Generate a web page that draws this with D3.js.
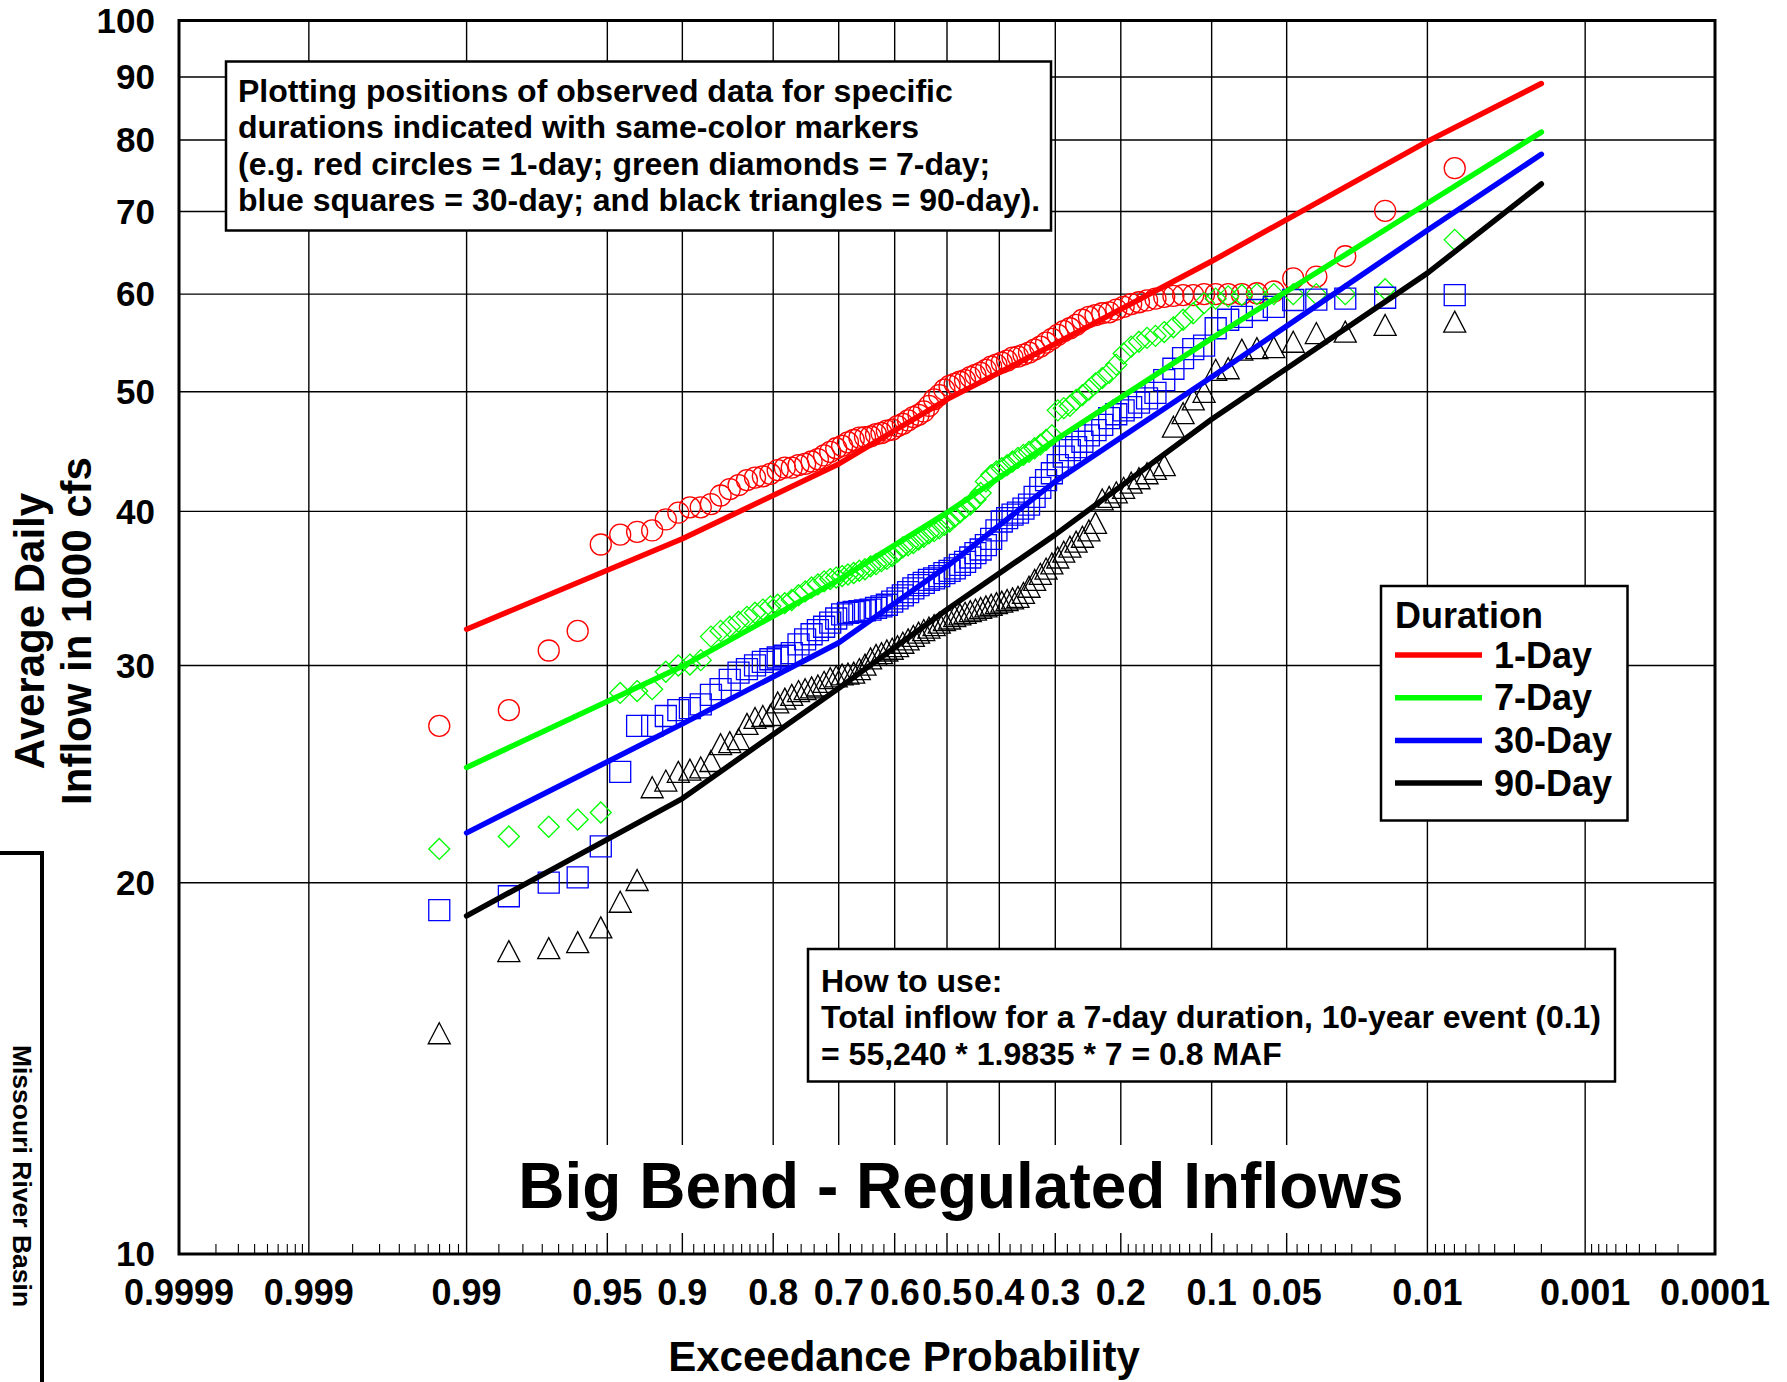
<!DOCTYPE html>
<html>
<head>
<meta charset="utf-8">
<script src="https://cdn.jsdelivr.net/npm/d3@7"></script>
<style>
body { margin:0; background:#fff; }
svg { display:block; font-family:"Liberation Sans", Arial, sans-serif; font-weight:bold; }
</style>
</head>
<body>
<svg id="chart" width="1787" height="1382"></svg>
<script>
"use strict";

// observed average daily inflow (1000 cfs), sorted smallest to largest
var day1 = [26.8, 27.6, 30.85, 32.0, 37.6, 38.3, 38.5, 38.6, 39.4, 39.9,
	40.3, 40.3, 40.55, 41.2, 41.7, 42.0, 42.4, 42.6, 42.7, 42.9,
	43.2, 43.4, 43.4, 43.6, 43.7, 43.9, 44.1, 44.4, 44.7, 45.0,
	45.2, 45.5, 45.7, 45.9, 45.95, 46.0, 46.2, 46.3, 46.5, 46.6,
	46.9, 47.1, 47.4, 47.7, 47.9, 48.2, 48.7, 49.3, 49.7, 50.2,
	50.55, 50.75, 50.95, 51.1, 51.4, 51.6, 51.8, 52.1, 52.4, 52.6,
	52.8, 53.0, 53.3, 53.4, 53.6, 53.8, 54.1, 54.4, 54.8, 55.2,
	55.6, 56.0, 56.3, 56.65, 57.2, 57.5, 57.7, 57.9, 58.0, 58.3,
	58.6, 58.9, 59.1, 59.3, 59.5, 59.7, 59.8, 59.9, 59.9, 60.0,
	60.0, 60.0, 60.0, 60.1, 60.3, 61.8, 62.0, 64.4, 70.1, 75.9];
var day7 = [21.3, 21.8, 22.2, 22.5, 22.8, 28.5, 28.6, 28.7, 29.65, 30.0,
	30.05, 30.3, 31.66, 32.0, 32.25, 32.55, 32.85, 33.1, 33.3, 33.5,
	33.6, 33.7, 33.9, 34.2, 34.45, 34.7, 34.9, 35.1, 35.25, 35.35,
	35.45, 35.55, 35.65, 35.8, 35.9, 36.1, 36.25, 36.45, 36.6, 36.8,
	37.1, 37.4, 37.55, 37.7, 37.95, 38.15, 38.4, 38.55, 38.75, 39.0,
	39.25, 39.6, 39.9, 40.25, 40.5, 40.9, 41.4, 42.3, 42.8, 43.1,
	43.35, 43.6, 43.9, 44.2, 44.45, 44.7, 45.0, 45.3, 45.7, 46.1,
	48.3, 48.5, 48.7, 49.25, 49.7, 50.2, 50.8, 51.3, 51.8, 52.6,
	53.7, 54.4, 54.9, 55.3, 55.5, 55.9, 56.4, 57.2, 57.9, 59.0,
	59.5, 59.75, 59.9, 60.0, 60.0, 60.0, 60.0, 60.0, 60.55, 66.4];
var day30 = [19.0, 19.5, 20.0, 20.2, 21.4, 24.6, 26.8, 26.8, 27.3, 27.6,
	27.7, 27.9, 28.4, 28.7, 29.2, 29.6, 29.8, 30.0, 30.2, 30.35,
	30.45, 30.55, 30.7, 31.2, 31.5, 31.8, 32.05, 32.25, 32.5, 32.75,
	33.0, 33.1, 33.15, 33.2, 33.25, 33.3, 33.4, 33.5, 33.6, 33.8,
	34.0, 34.2, 34.4, 34.65, 34.85, 35.0, 35.2, 35.3, 35.45, 35.65,
	35.8, 35.96, 36.2, 36.4, 36.7, 37.0, 37.25, 37.55, 38.0, 38.6,
	39.25, 39.5, 39.75, 39.9, 40.2, 40.5, 41.1, 41.8, 42.4, 42.95,
	43.6, 44.3, 44.85, 45.1, 45.55, 46.1, 46.55, 47.0, 47.6, 47.95,
	48.3, 48.6, 49.0, 49.4, 49.9, 51.1, 52.2, 53.25, 54.15, 54.5,
	56.3, 57.2, 57.5, 58.25, 58.6, 59.35, 59.4, 59.5, 59.6, 59.9];
var day90 = [15.1, 17.6, 17.7, 17.9, 18.4, 19.3, 20.1, 23.9, 24.2, 24.6,
	24.7, 24.8, 25.1, 25.9, 26.0, 26.15, 26.9, 27.2, 27.3, 27.35,
	28.0, 28.2, 28.4, 28.6, 28.7, 28.8, 28.9, 29.1, 29.3, 29.4,
	29.5, 29.55, 29.6, 29.8, 30.05, 30.4, 30.6, 30.7, 30.85, 30.95,
	31.1, 31.3, 31.5, 31.7, 31.9, 32.05, 32.2, 32.35, 32.5, 32.65,
	32.75, 32.9, 33.0, 33.1, 33.2, 33.3, 33.4, 33.5, 33.6, 33.7,
	33.8, 33.9, 34.0, 34.1, 34.35, 34.75, 35.2, 35.6, 35.95, 36.3,
	36.7, 37.1, 37.45, 37.8, 38.15, 38.6, 39.15, 40.9, 41.1, 41.45,
	41.8, 42.2, 42.55, 42.95, 43.3, 43.6, 46.85, 48.05, 49.3, 50.0,
	52.1, 52.25, 54.1, 54.25, 54.35, 54.9, 55.8, 55.95, 56.65, 57.0];

// fitted frequency curves (exceedance probability -> 1000 cfs)
var fitProb = [0.99, 0.9, 0.7, 0.5, 0.3, 0.1, 0.01, 0.002];
var fit1  = [32.1, 38.0, 43.7, 49.3, 54.7, 63.8, 79.8, 88.9];
var fit7  = [24.8, 29.95, 35.2, 39.9, 45.7, 55.24, 71.1, 81.2];
var fit30 = [21.95, 26.9, 31.3, 36.1, 42.3, 51.4, 67.6, 77.9];
var fit90 = [18.8, 23.4, 28.75, 33.3, 38.3, 47.5, 62.4, 73.7];

var durations = ["1-Day", "7-Day", "30-Day", "90-Day"];
var colors = ["#ff0000", "#00ff00", "#0000ff", "#000000"];

var xTicks = [0.9999, 0.999, 0.99, 0.95, 0.9, 0.8, 0.7, 0.6, 0.5, 0.4, 0.3, 0.2, 0.1, 0.05, 0.01, 0.001, 0.0001];
var xTickLabels = ["0.9999", "0.999", "0.99", "0.95", "0.9", "0.8", "0.7", "0.6", "0.5", "0.4", "0.3", "0.2", "0.1", "0.05", "0.01", "0.001", "0.0001"];
var yTicks = [10, 20, 30, 40, 50, 60, 70, 80, 90, 100];

var noteLines = ["Plotting positions of observed data for specific",
	"durations indicated with same-color markers",
	"(e.g. red circles = 1-day; green diamonds = 7-day;",
	"blue squares = 30-day; and black triangles = 90-day)."];
var howLines = ["How to use:",
	"Total inflow for a 7-day duration, 10-year event (0.1)",
	"= 55,240 * 1.9835 * 7 = 0.8 MAF"];

// inverse standard normal (Acklam)
function qnorm(p) {
	var a = [-39.69683028665376, 220.9460984245205, -275.9285104469687, 138.3577518672690, -30.66479806614716, 2.506628277459239];
	var b = [-54.47609879822406, 161.5858368580409, -155.6989798598866, 66.80131188771972, -13.28068155288572];
	var c = [-0.007784894002430293, -0.3223964580411365, -2.400758277161838, -2.549732539343734, 4.374664141464968, 2.938163982698783];
	var d = [0.007784695709041462, 0.3224671290700398, 2.445134137142996, 3.754408661907416];
	var q, r;
	if (p < 0.02425) {
		q = Math.sqrt(-2*Math.log(p));
		return (((((c[0]*q+c[1])*q+c[2])*q+c[3])*q+c[4])*q+c[5]) / ((((d[0]*q+d[1])*q+d[2])*q+d[3])*q+1);
	}
	if (p > 1-0.02425) {
		q = Math.sqrt(-2*Math.log(1-p));
		return -(((((c[0]*q+c[1])*q+c[2])*q+c[3])*q+c[4])*q+c[5]) / ((((d[0]*q+d[1])*q+d[2])*q+d[3])*q+1);
	}
	q = p - 0.5; r = q*q;
	return (((((a[0]*r+a[1])*r+a[2])*r+a[3])*r+a[4])*r+a[5])*q / (((((b[0]*r+b[1])*r+b[2])*r+b[3])*r+b[4])*r+1);
}

var box = {left:179, right:1715, top:20.5, bottom:1254};
var svg = d3.select("#chart");
svg.append("rect").attr("width", 1787).attr("height", 1382).attr("fill", "#fff");

var zScale = d3.scaleLinear().domain([qnorm(0.0001), qnorm(0.9999)]).range([box.left, box.right]);
function xP(p) { return zScale(qnorm(1 - p)); } // p is exceedance probability
var y = d3.scaleLog().domain([10, 100]).range([box.bottom, box.top]);

// grid
var grid = svg.append("g").attr("stroke", "#000").attr("stroke-width", 1.4);
xTicks.slice(1, -1).forEach(function(p){
	grid.append("line").attr("x1", xP(p)).attr("x2", xP(p)).attr("y1", box.top).attr("y2", box.bottom);
});
yTicks.slice(1, -1).forEach(function(v){
	grid.append("line").attr("x1", box.left).attr("x2", box.right).attr("y1", y(v)).attr("y2", y(v));
});

// minor ticks on the probability axis
var minor = [].concat(
	d3.range(2, 10).map(function(k){ return k*0.0001; }),
	d3.range(2, 10).map(function(k){ return k*0.001; }),
	d3.range(3, 10).map(function(k){ return k*0.005; }),
	d3.range(6, 10).map(function(k){ return k*0.01; }),
	d3.range(11, 20).map(function(k){ return k*0.01; }),
	[0.22, 0.24, 0.26, 0.28, 0.32, 0.34, 0.36, 0.38, 0.42, 0.44, 0.46, 0.48]);
minor = minor.concat(minor.map(function(p){ return 1 - p; }));
minor.forEach(function(p){
	grid.append("line").attr("stroke-width", 1.1)
		.attr("x1", xP(p)).attr("x2", xP(p)).attr("y1", box.bottom - 10).attr("y2", box.bottom);
});

// marker shapes
var triangleType = { draw: function(ctx, s){ var h = Math.sqrt(s)/2; ctx.moveTo(0, -h); ctx.lineTo(h*1.05, h); ctx.lineTo(-h*1.05, h); ctx.closePath(); } };
var diamondType = { draw: function(ctx, s){ var h = Math.sqrt(s)/2; ctx.moveTo(0, -h); ctx.lineTo(h, 0); ctx.lineTo(0, h); ctx.lineTo(-h, 0); ctx.closePath(); } };
var shapes = [
	d3.symbol().type(d3.symbolCircle).size(Math.PI*10.5*10.5),
	d3.symbol().type(diamondType).size(21*21),
	d3.symbol().type(d3.symbolSquare).size(21*21),
	d3.symbol().type(triangleType).size(21*21)
];

var observed = [day1, day7, day30, day90];
var fits = [fit1, fit7, fit30, fit90];

// plotting position (i-0.3)/(n+0.4), values sorted ascending
observed.forEach(function(vals, k){
	var n = vals.length;
	svg.append("g").selectAll("path").data(vals).join("path")
		.attr("d", shapes[k])
		.attr("transform", function(v, i){ return "translate(" + xP(1 - (i + 1 - 0.3)/(n + 0.4)) + "," + y(v) + ")"; })
		.attr("fill", "none")
		.attr("stroke", colors[k])
		.attr("stroke-width", 1.3);
});

var line = d3.line()
	.x(function(d){ return xP(d[0]); })
	.y(function(d){ return y(d[1]); });
fits.forEach(function(vals, k){
	svg.append("path")
		.attr("d", line(d3.zip(fitProb, vals)))
		.attr("fill", "none")
		.attr("stroke", colors[k])
		.attr("stroke-width", 5.5)
		.attr("stroke-linecap", "round")
		.attr("stroke-linejoin", "round");
});

// frame
svg.append("rect")
	.attr("x", box.left).attr("y", box.top)
	.attr("width", box.right - box.left).attr("height", box.bottom - box.top)
	.attr("fill", "none").attr("stroke", "#000").attr("stroke-width", 3);

// tick labels
svg.append("g").selectAll("text").data(yTicks).join("text")
	.attr("x", 155).attr("y", function(v){ return y(v); })
	.attr("dy", "0.35em").attr("text-anchor", "end")
	.attr("font-size", 35)
	.text(function(v){ return v; });
svg.append("g").selectAll("text").data(xTicks).join("text")
	.attr("x", function(p){ return xP(p); }).attr("y", 1305)
	.attr("text-anchor", "middle")
	.attr("font-size", 36)
	.text(function(p, i){ return xTickLabels[i]; });

// note box
svg.append("rect").attr("x", 226).attr("y", 61.5).attr("width", 825).attr("height", 169)
	.attr("fill", "#fff").attr("stroke", "#000").attr("stroke-width", 2.5);
svg.append("g").selectAll("text").data(noteLines).join("text")
	.attr("x", 238).attr("y", function(d, i){ return 101.5 + i*36.5; })
	.attr("font-size", 32).text(function(d){ return d; });

// how-to box
svg.append("rect").attr("x", 808).attr("y", 949).attr("width", 807).attr("height", 132.5)
	.attr("fill", "#fff").attr("stroke", "#000").attr("stroke-width", 2.5);
svg.append("g").selectAll("text").data(howLines).join("text")
	.attr("x", 821).attr("y", function(d, i){ return 991.5 + i*36.5; })
	.attr("font-size", 32).text(function(d){ return d; });

// legend
var leg = svg.append("g");
leg.append("rect").attr("x", 1381).attr("y", 586).attr("width", 246.5).attr("height", 234.5)
	.attr("fill", "#fff").attr("stroke", "#000").attr("stroke-width", 2.5);
leg.append("text").attr("x", 1395).attr("y", 628).attr("font-size", 36).text("Duration");
durations.forEach(function(name, k){
	var ly = 655 + k*42.7;
	leg.append("line").attr("x1", 1395).attr("x2", 1482).attr("y1", ly).attr("y2", ly)
		.attr("stroke", colors[k]).attr("stroke-width", 5.5);
	leg.append("text").attr("x", 1494).attr("y", ly).attr("dy", "0.35em")
		.attr("font-size", 36).text(name);
});

// title over the grid
svg.append("rect").attr("x", 505).attr("y", 1145).attr("width", 915).attr("height", 88).attr("fill", "#fff");
svg.append("text").attr("x", 961).attr("y", 1208).attr("text-anchor", "middle")
	.attr("font-size", 64).text("Big Bend - Regulated Inflows");

// axis titles
svg.append("text").attr("x", 904).attr("y", 1371).attr("text-anchor", "middle")
	.attr("font-size", 42).text("Exceedance Probability");
svg.append("text").attr("transform", "translate(44,631) rotate(-90)").attr("text-anchor", "middle")
	.attr("font-size", 42).text("Average Daily");
svg.append("text").attr("transform", "translate(91,631) rotate(-90)").attr("text-anchor", "middle")
	.attr("font-size", 42).text("Inflow in 1000 cfs");

// basin tab
svg.append("path").attr("d", "M0,853H42V1382").attr("fill", "none").attr("stroke", "#000").attr("stroke-width", 4);
svg.append("text").attr("transform", "translate(13,1176) rotate(90)").attr("text-anchor", "middle")
	.attr("font-size", 26.5).text("Missouri River Basin");
</script>
</body>
</html>
